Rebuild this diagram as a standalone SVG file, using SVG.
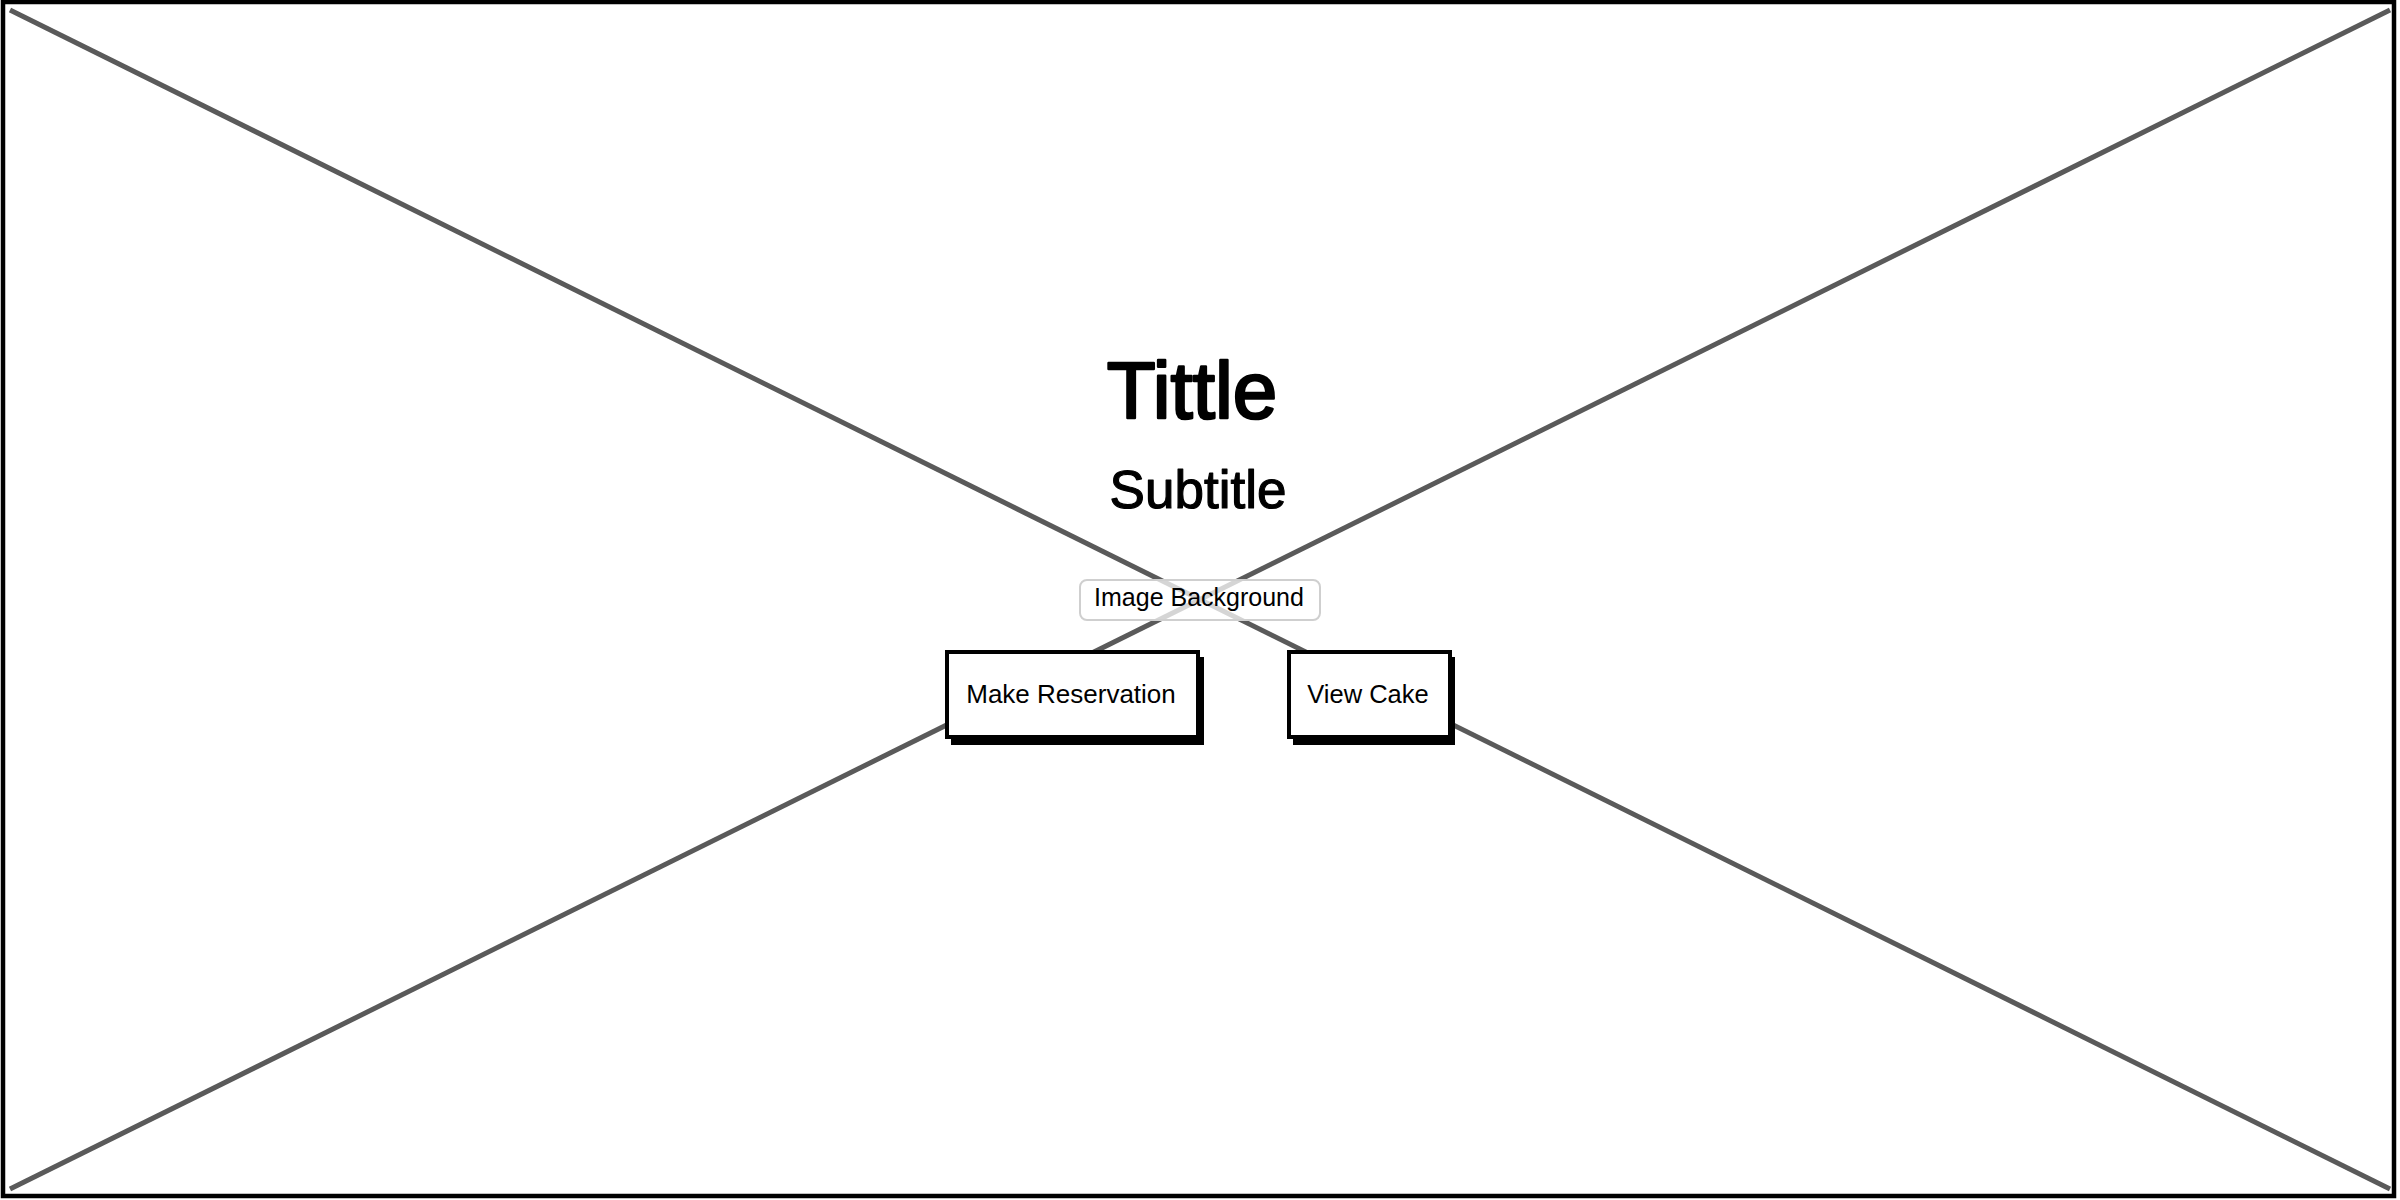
<svg xmlns="http://www.w3.org/2000/svg" width="2400" height="1200" viewBox="0 0 2400 1200">
<style>
.txt{font-family:"Liberation Sans","Noto Sans",sans-serif;fill:#000;text-anchor:middle}
.bold{stroke:#000;stroke-linejoin:round;stroke-linecap:round}
.diag{stroke:#5a5a5a;stroke-width:5;fill:none;stroke-linecap:butt}
.btn{fill:#fff;stroke:#000;stroke-width:4}
.shadow{fill:#000}
</style>
<rect x="0" y="0" width="2400" height="1200" fill="#fff"/>
<g id="frame">
<rect x="3" y="2" width="2391" height="1194" fill="#fff" stroke="#000" stroke-width="4.5"/>
</g>
<g id="connectors">
<line class="diag" x1="10" y1="10" x2="2390" y2="1189"/>
<line class="diag" x1="2390" y1="10" x2="10" y2="1189"/>
</g>
<g id="title">
<text class="txt bold" x="1192" y="418" font-size="80" stroke-width="2.5">Tittle</text>
</g>
<g id="subtitle">
<text class="txt bold" x="1198" y="508" font-size="53" stroke-width="1.2">Subtitle</text>
</g>
<g id="image-background">
<rect x="1080" y="580" width="240" height="40" rx="7" fill="#fff" fill-opacity="0.75" stroke="#cfcfcf" stroke-width="2"/>
<text class="txt" x="1199" y="606" font-size="25">Image Background</text>
</g>
<g id="make-reservation">
<rect class="shadow" x="951" y="657" width="253" height="88"/>
<rect class="btn" x="947" y="652" width="251" height="85"/>
<text class="txt" x="1071" y="703" font-size="26">Make Reservation</text>
</g>
<g id="view-cake">
<rect class="shadow" x="1293" y="657" width="162" height="88"/>
<rect class="btn" x="1289" y="652" width="161" height="85"/>
<text class="txt" x="1368" y="703" font-size="25.5">View Cake</text>
</g>
</svg>
